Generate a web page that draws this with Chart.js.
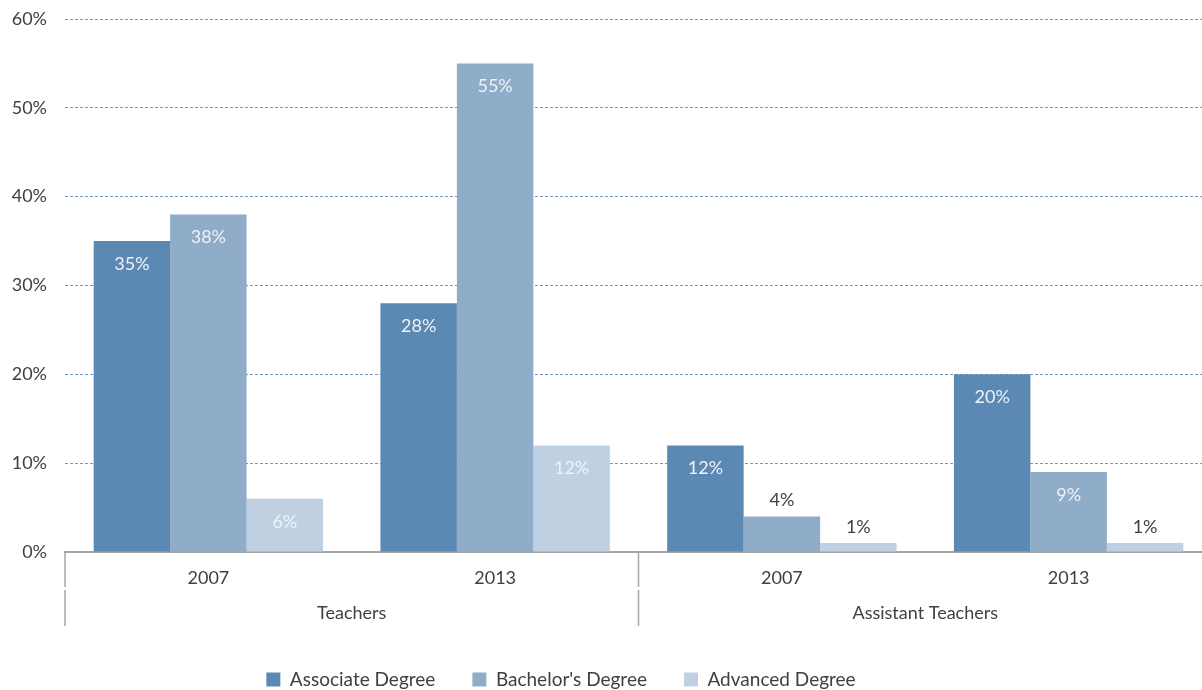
<!DOCTYPE html>
<html>
<head>
<meta charset="utf-8">
<script src="https://cdn.jsdelivr.net/npm/chart.js@4"></script>
<style>
  html, body { margin: 0; padding: 0; background: #fff; overflow: hidden; }
  /* plot runs a little past the right edge of the picture */
  #wrap { width: 1212px; height: 690px; }
</style>
</head>
<body>
<div id="wrap"><canvas id="degreeChart"></canvas></div>
<script>
// Chart data
const years = ['2007', '2013', '2007', '2013'];
const groups = ['Teachers', 'Assistant Teachers'];
const seriesNames = ['Associate Degree', "Bachelor's Degree", 'Advanced Degree'];
const associate = [35, 28, 12, 20];
const bachelor = [38, 55, 4, 9];
const advanced = [6, 12, 1, 1];
const yTicks = [0, 10, 20, 30, 40, 50, 60];

const colors = ['#5b89b3', '#8facc9', '#c0d0e3'];
const textColor = '#404040';
const fontFamily = 'Lato, "Open Sans", sans-serif';

// draws value labels on bars
const barLabels = {
    id: 'barLabels',
    afterDatasetsDraw(chart) {
        const ctx = chart.ctx;
        ctx.save();
        ctx.font = '18px ' + fontFamily;
        ctx.textAlign = 'center';
        chart.data.datasets.forEach((ds, i) => {
            const meta = chart.getDatasetMeta(i);
            meta.data.forEach((bar, j) => {
                const v = ds.data[j];
                if (v >= 5) {
                    ctx.fillStyle = '#eef2f7';
                    ctx.textBaseline = 'middle';
                    ctx.fillText(v + '%', bar.x, bar.y + 23);
                } else {
                    ctx.fillStyle = textColor;
                    ctx.textBaseline = 'bottom';
                    ctx.fillText(v + '%', bar.x, bar.y - 7);
                }
            });
        });
        ctx.restore();
    }
};

// group labels and separators under the x axis
const groupAxis = {
    id: 'groupAxis',
    afterLayout(chart) {
        // legend sits left of the canvas centre
        chart.legend.left -= 45;
        chart.legend.right -= 45;
    },
    afterDraw(chart) {
        const x = chart.scales.x;
        const ctx = chart.ctx;
        const top = chart.chartArea.bottom;
        const step = x.getPixelForValue(1) - x.getPixelForValue(0);
        ctx.save();
        ctx.strokeStyle = '#a6a6a6';
        ctx.lineWidth = 1.5;
        [x.getPixelForValue(0) - step / 2, x.getPixelForValue(2) - step / 2].forEach(px => {
            ctx.beginPath();
            ctx.moveTo(px, top);
            ctx.lineTo(px, top + 35);
            ctx.moveTo(px, top + 38);
            ctx.lineTo(px, top + 74);
            ctx.stroke();
        });
        ctx.fillStyle = textColor;
        ctx.font = '18px ' + fontFamily;
        ctx.textAlign = 'center';
        ctx.textBaseline = 'middle';
        ctx.fillText(groups[0], (x.getPixelForValue(0) + x.getPixelForValue(1)) / 2, top + 61);
        ctx.fillText(groups[1], (x.getPixelForValue(2) + x.getPixelForValue(3)) / 2, top + 61);
        ctx.restore();
    }
};

new Chart(document.getElementById('degreeChart'), {
    type: 'bar',
    data: {
        labels: years,
        datasets: [
            { label: seriesNames[0], data: associate, backgroundColor: colors[0] },
            { label: seriesNames[1], data: bachelor, backgroundColor: colors[1] },
            { label: seriesNames[2], data: advanced, backgroundColor: colors[2] }
        ]
    },
    options: {
        responsive: true,
        maintainAspectRatio: false,
        animation: false,
        layout: { padding: { top: 19, right: 0, left: 0, bottom: -9 } },
        datasets: {
            bar: { barPercentage: 1, categoryPercentage: 0.8 }
        },
        plugins: {
            legend: {
                position: 'bottom',
                labels: {
                    boxWidth: 14,
                    boxHeight: 14,
                    padding: 37,
                    color: textColor,
                    font: { family: fontFamily, size: 19 }
                }
            },
            tooltip: { enabled: false }
        },
        scales: {
            y: {
                min: 0,
                max: 60,
                afterBuildTicks(scale) {
                    scale.ticks = yTicks.map(v => ({ value: v }));
                },
                afterFit(scale) {
                    scale.width = 65;
                    scale.paddingTop = 0;
                    scale.paddingBottom = 0;
                },
                ticks: {
                    padding: 18,
                    color: textColor,
                    font: { family: fontFamily, size: 18 },
                    callback: v => v + '%'
                },
                grid: {
                    drawTicks: false,
                    color: ctx => ctx.tick && ctx.tick.value === 0 ? 'rgba(0,0,0,0)' : '#7396c0',
                    lineWidth: 1
                },
                border: { display: false, dash: [3, 2] }
            },
            x: {
                afterFit(scale) { scale.height = 81; },
                ticks: {
                    padding: 15,
                    color: textColor,
                    font: { family: fontFamily, size: 18 }
                },
                grid: { display: false, drawTicks: false },
                border: { display: true, color: '#a6a6a6', width: 2 }
            }
        }
    },
    plugins: [barLabels, groupAxis]
});
</script>
</body>
</html>
